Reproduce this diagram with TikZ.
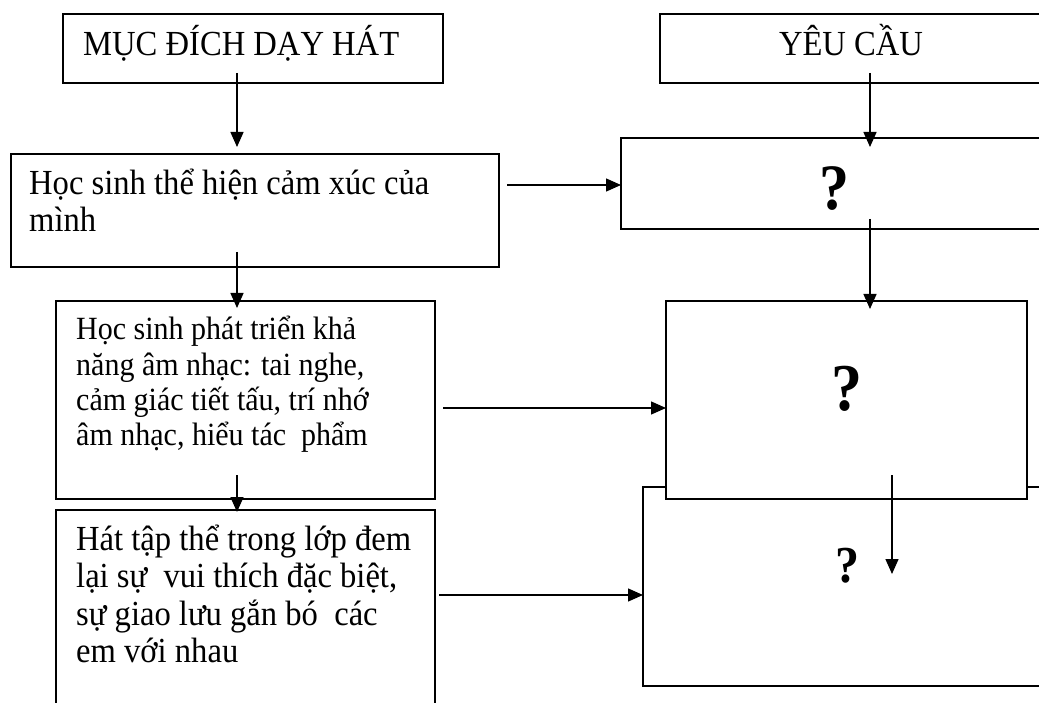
\documentclass[tikz,border=0pt]{standalone}
\usepackage{fontspec}
\setmainfont{Liberation Serif}
\usetikzlibrary{arrows.meta}
\newcommand{\vstr}[1]{\scalebox{1}[1.08]{#1}}
\begin{document}
\begin{tikzpicture}[x=1pt,y=-1pt,
  box/.style={draw, line width=1.4pt, fill=white, inner sep=0pt, outer sep=0pt, anchor=north west},
  arr/.style={line width=1.4pt, -{Triangle[length=15pt,width=13pt]}},
  txt/.style={anchor=base west, inner sep=0pt, font=\fontsize{32.6}{37.5}\selectfont},
  txtsm/.style={anchor=base west, inner sep=0pt, font=\fontsize{30}{35}\selectfont},
  qmark/.style={anchor=base, inner sep=0pt}]
\clip (0,0) rectangle (1039,703);
\fill[white] (0,0) rectangle (1039,703);
% boxes
\node[box, minimum width=380pt, minimum height=69pt] (A) at (63,14) {};
\node[box, minimum width=488pt, minimum height=113pt] (B) at (11,154) {};
\node[box, minimum width=379pt, minimum height=198pt] (C) at (56,301) {};
\node[box, minimum width=379pt, minimum height=220pt] (D) at (56,510) {};
\node[box, minimum width=420pt, minimum height=69pt] (E) at (660,14) {};
\node[box, minimum width=440pt, minimum height=91pt] (F) at (621,138) {};
\node[box, minimum width=420pt, minimum height=199pt] (H) at (643,487) {};
\node[box, minimum width=361pt, minimum height=198pt] (G) at (666,301) {};
% texts
\node[txt] (tA) at (83,56) {\vstr{MỤC ĐÍCH DẠY HÁT}};
\node[txt, anchor=base] (tE) at (851,56) {\vstr{YÊU CẦU}};
\node[txt] (tB1) at (29,195) {\vstr{Học sinh thể hiện cảm xúc của}};
\node[txt] (tB2) at (29,232) {\vstr{mình}};
\node[txtsm] (tC1) at (76,340) {\vstr{Học sinh phát triển khả}};
\node[txtsm] (tC2) at (76,375) {\vstr{năng âm nhạc: tai nghe,}};
\node[txtsm] (tC3) at (76,410) {\vstr{cảm giác tiết tấu, trí nhớ}};
\node[txtsm] (tC4) at (76,445) {\vstr{âm nhạc, hiểu tác\ \ phẩm}};
\node[txt] (tD1) at (76,550) {\vstr{Hát tập thể trong lớp đem}};
\node[txt] (tD2) at (76,587) {\vstr{lại sự\ \ vui thích đặc biệt,}};
\node[txt] (tD3) at (76,625) {\vstr{sự giao lưu gắn bó\ \ các}};
\node[txt] (tD4) at (76,662) {\vstr{em với nhau}};
\node[qmark, font=\fontsize{60}{70}\selectfont\bfseries] (qF) at (834,210) {\vstr{?}};
\node[qmark, font=\fontsize{62}{72}\selectfont\bfseries] (qG) at (847,410) {\vstr{?}};
\node[qmark, font=\fontsize{48}{58}\selectfont\bfseries] (qH) at (847,582) {\vstr{?}};
% connector columns
\coordinate (xL) at (237,0);
\coordinate (xR) at (870,0);
\coordinate (xI) at (892,0);
% left column arrows
\draw[arr] ([yshift=10pt]A.south -| xL) -- ([yshift=7pt]B.north -| xL);
\draw[arr] ([yshift=15pt]B.south -| xL) -- ([yshift=-7pt]C.north -| xL);
\draw[arr] ([yshift=24pt]C.south -| xL) -- ([yshift=-2pt]D.north -| xL);
% right column arrows
\draw[arr] ([yshift=10pt]E.south -| xR) -- ([yshift=-9pt]F.north -| xR);
\draw[arr] ([yshift=10pt]F.south -| xR) -- ([yshift=-8pt]G.north -| xR);
\draw[arr] ([yshift=24pt]G.south -| xI) -- ([yshift=-87pt]H.north -| xI);
% horizontal arrows
\coordinate (hB) at (507,185);
\coordinate (hC) at (443,408);
\coordinate (hD) at (439,595);
\draw[arr] (hB) -- (hB -| F.west);
\draw[arr] (hC) -- (hC -| G.west);
\draw[arr] (hD) -- (hD -| H.west);
\end{tikzpicture}
\end{document}
